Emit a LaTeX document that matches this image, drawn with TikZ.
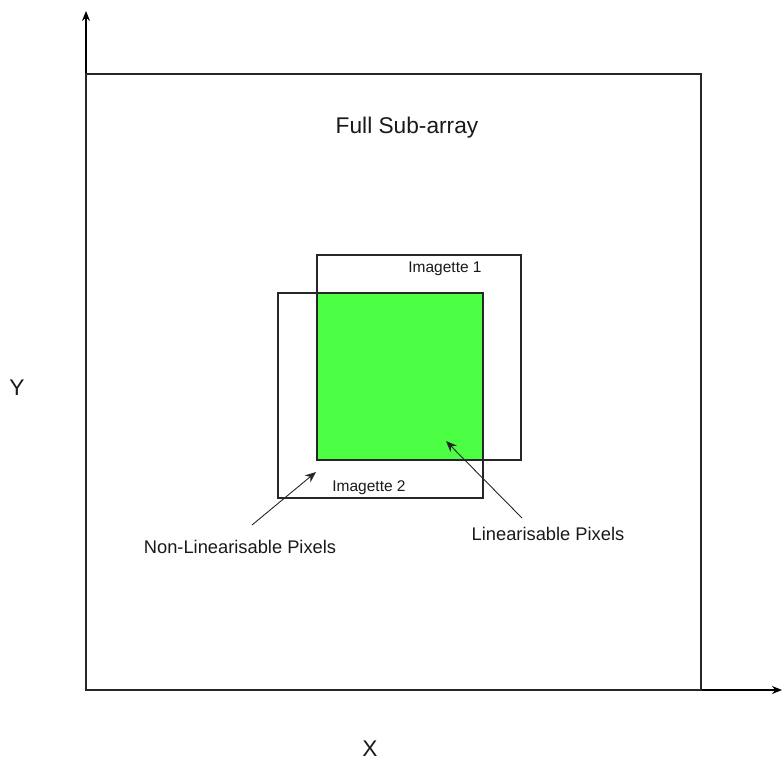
\documentclass[tikz,border=0pt]{standalone}
\usepackage{fontspec}
\setmainfont{Liberation Sans}
\usetikzlibrary{arrows.meta}
\begin{document}
\begin{tikzpicture}[x=1pt,y=-1pt,
  frame/.style={draw=black!85,line width=1.2pt},
  lbl/.style={inner sep=0pt,text=black!90},
  pointer/.style={draw=black!85,line width=0.9pt,-{Stealth[length=11pt,width=9pt]}},
  axis/.style={draw=black,line width=1.2pt,-{Stealth[length=10pt,width=8pt]}}]
\useasboundingbox (0,0) rectangle (782,762);
% axes
\coordinate (O) at (86,690);
\coordinate (ytip) at (86,11);
\coordinate (xtip) at (782,690);
\draw[axis] (O) -- (ytip);
\draw[axis] (O) -- (xtip);
% full sub-array
\draw[frame] (86,74) rectangle (701,690);
% imagettes
\fill[fill={rgb,255:red,77;green,255;blue,68}] (317,293) rectangle (483,460);
\draw[frame] (317,255) rectangle (521,460);
\draw[frame] (278,293) rectangle (483,498);
% labels
\node[lbl,font=\fontsize{22.7}{27}\selectfont] (full) at (407,128) {Full Sub-array};
\node[lbl,font=\fontsize{15.5}{18}\selectfont] (im1) at (445,269) {Imagette 1};
\node[lbl,font=\fontsize{15.5}{18}\selectfont] (im2) at (369,488) {Imagette 2};
\node[lbl,font=\fontsize{18.3}{22}\selectfont] (nonlin) at (240,547) {Non-Linearisable Pixels};
\node[lbl,font=\fontsize{18.3}{22}\selectfont] (lin) at (548,534) {Linearisable Pixels};
\node[lbl,font=\fontsize{22.7}{27}\selectfont] (ylab) at (17,388) {Y};
\node[lbl,font=\fontsize{22.7}{27}\selectfont] (xlab) at (370,749) {X};
% pointers
\coordinate (nltail) at (252,525);
\coordinate (nlhead) at (316,472);
\coordinate (ltail) at (522,518);
\coordinate (lhead) at (446,441);
\draw[pointer] (nltail) -- (nlhead);
\draw[pointer] (ltail) -- (lhead);
\end{tikzpicture}
\end{document}
